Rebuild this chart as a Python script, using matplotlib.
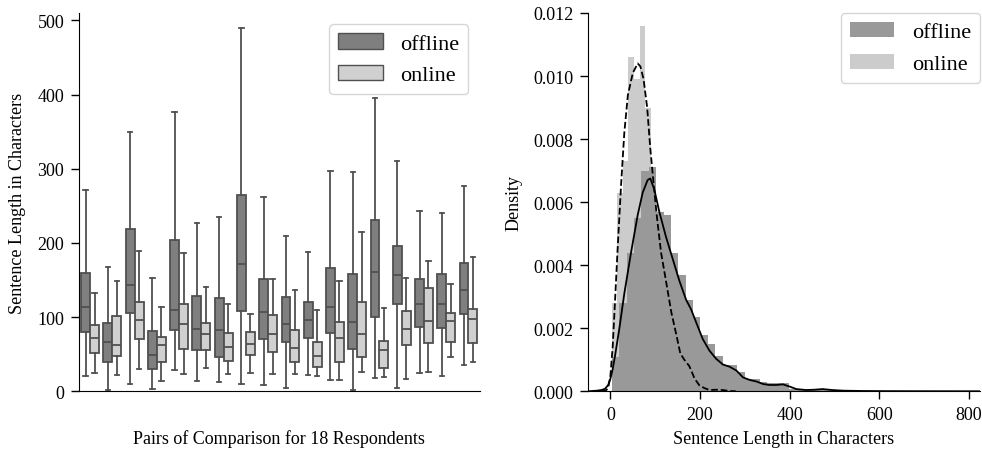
import numpy as np
import matplotlib
matplotlib.use("Agg")
import matplotlib.pyplot as plt
from matplotlib.patches import Patch

plt.rcParams['font.family'] = ['Liberation Serif', 'DejaVu Serif']
plt.rcParams['font.size'] = 13

# --- box plot data: one value per respondent (18 pairs) ---
offline_hi = [272, 168, 349, 153, 377, 227, 235, 490, 262, 209, 188, 297, 296, 395, 311, 243, 240, 277]
offline_q3 = [159, 92, 219, 81, 204, 128, 126, 264, 151, 127, 121, 166, 158, 231, 196, 151, 158, 173]
offline_med = [114, 67, 143, 49, 110, 84, 82, 172, 107, 91, 96, 113, 93, 161, 157, 118, 118, 136]
offline_q1 = [80, 40, 105, 30, 82, 55, 46, 108, 71, 66, 72, 79, 57, 100, 118, 86, 85, 104]
offline_lo = [21, 2, 10, 3, 29, 14, 13, 10, 8, 4, 22, 15, 2, 18, 5, 25, 20, 36]

online_hi = [133, 149, 189, 114, 187, 140, 118, 104, 151, 137, 110, 149, 215, 112, 153, 176, 144, 181]
online_q3 = [90, 101, 121, 73, 117, 92, 79, 80, 103, 83, 66, 94, 120, 68, 108, 139, 105, 111]
online_med = [72, 62, 96, 63, 91, 77, 60, 64, 77, 58, 48, 72, 77, 56, 84, 95, 95, 97]
online_q1 = [52, 48, 70, 40, 57, 55, 41, 49, 53, 39, 33, 40, 46, 31, 63, 65, 67, 65]
online_lo = [25, 22, 30, 14, 23, 31, 23, 25, 23, 23, 21, 15, 26, 19, 17, 26, 46, 39]

# --- histogram data (density per bin) ---
offline_bin_start, offline_bin_width = 3.0, 16.5
offline_hist = [0.0011, 0.0028, 0.0044, 0.0055, 0.0070, 0.0071, 0.0057, 0.0056, 0.0044, 0.0037,
                0.0029, 0.00235, 0.0018, 0.0015, 0.00113, 0.00084, 0.00084, 0.0006, 0.0004, 0.0004,
                0.0003, 0.00025, 0.00025, 0.00027, 0.00008, 0.00005, 0.00003, 0.00005, 0.00008, 0.00004,
                0.00002, 0.00002, 0.00001, 0.00001, 0.00002, 0.0, 0.00001, 0.0, 0.0, 0.00001,
                0.0, 0.0, 0.00001, 0.0, 0.0, 0.0, 0.00001, 0.0, 0.0, 0.00001]
online_bin_start, online_bin_width = 2.5, 12.5
online_hist = [0.0028, 0.0063, 0.0073, 0.0106, 0.0099, 0.0116, 0.0090, 0.0063, 0.0049, 0.0038,
               0.0030, 0.0028, 0.0022, 0.0012, 0.0008, 0.0004, 0.0002, 0.0001, 0.0001, 0.00005]

# --- kde curves ---
offline_kde_x = [-50, -40, -30, -20, -12, -5, 0, 5, 10, 20, 31, 46, 61, 72, 83, 89, 98, 109, 124, 139,
                 154, 169, 180, 191, 206, 221, 236, 251, 266, 281, 296, 311, 326, 341, 355, 370, 385,
                 400, 415, 437, 455, 474, 495, 520, 560, 620, 700, 825]
offline_kde_y = [0, 0.00001, 0.00002, 0.00004, 0.00008, 0.0002, 0.0004, 0.0007, 0.0011, 0.0020, 0.0031,
                 0.0044, 0.0056, 0.0063, 0.0067, 0.00675, 0.0064, 0.0057, 0.0049, 0.0042, 0.0035,
                 0.0029, 0.0026, 0.0022, 0.00166, 0.00129, 0.00103, 0.00085, 0.00078, 0.00066,
                 0.00044, 0.00036, 0.00031, 0.00023, 0.0002, 0.0002, 0.00022, 0.00015, 0.00007,
                 0.00004, 0.00005, 0.00007, 0.00004, 0.00002, 0.00001, 0.000005, 0.000003, 0.000001]
online_kde_x = [-20, -10, -5, 0, 5, 9, 16, 24, 31, 39, 50, 61, 67, 74, 82, 89, 97, 104, 113, 124, 136,
                147, 156, 165, 176, 188, 199, 210, 221, 236, 251, 265, 280]
online_kde_y = [0, 0.00003, 0.0001, 0.0005, 0.0014, 0.0025, 0.0045, 0.0066, 0.0082, 0.0094, 0.0101,
                0.0104, 0.0103, 0.0099, 0.0090, 0.0077, 0.0065, 0.0055, 0.0044, 0.0035, 0.0025,
                0.0018, 0.0012, 0.0010, 0.0008, 0.0004, 0.00018, 0.0001, 0.00004, 0.00005, 0.00004,
                0.00001, 0]

OFF_BOX = '#7f7f7f'
ON_BOX = '#d0d0d0'
LINE = '#505050'
OFF_HIST = '#999999'
ON_HIST = '#cccccc'

fig = plt.figure(figsize=(9.82, 4.52), dpi=100)
ax1 = fig.add_axes([0.0804, 0.1321, 0.408, 0.837])
ax2 = fig.add_axes([0.5988, 0.1321, 0.3992, 0.837])


def make_stats(lo, q1, med, q3, hi):
    return [dict(whislo=a, q1=b, med=c, q3=d, whishi=e)
            for a, b, c, d, e in zip(lo, q1, med, q3, hi)]


n = len(offline_med)
cats = np.arange(n)
common = dict(widths=0.4, showfliers=False, patch_artist=True,
              whiskerprops=dict(color=LINE, lw=1.3),
              capprops=dict(color=LINE, lw=1.3),
              medianprops=dict(color=LINE, lw=1.3))
ax1.bxp(make_stats(offline_lo, offline_q1, offline_med, offline_q3, offline_hi),
        positions=cats - 0.2, boxprops=dict(facecolor=OFF_BOX, edgecolor=LINE, lw=1.3), **common)
ax1.bxp(make_stats(online_lo, online_q1, online_med, online_q3, online_hi),
        positions=cats + 0.2, boxprops=dict(facecolor=ON_BOX, edgecolor=LINE, lw=1.3), **common)
ax1.set_xlim(-0.5, n - 0.5)
ax1.set_ylim(0, 510)
ax1.set_xticks([])
ax1.set_yticks([0, 100, 200, 300, 400, 500])
ax1.set_xlabel('Pairs of Comparison for 18 Respondents', labelpad=27)
ax1.set_ylabel('Sentence Length in Characters', labelpad=8)
ax1.legend(handles=[Patch(facecolor=OFF_BOX, edgecolor=LINE, label='offline'),
                    Patch(facecolor=ON_BOX, edgecolor=LINE, label='online')],
           loc='upper right', bbox_to_anchor=(1.0, 1.0), fontsize=16,
           edgecolor='0.8', handlelength=2.0)

# histograms
on_edges = online_bin_start + online_bin_width * np.arange(len(online_hist))
off_edges = offline_bin_start + offline_bin_width * np.arange(len(offline_hist))
ax2.bar(on_edges, online_hist, width=online_bin_width, align='edge', color=ON_HIST, lw=0)
ax2.bar(off_edges, offline_hist, width=offline_bin_width, align='edge', color=OFF_HIST, lw=0)
ax2.plot(offline_kde_x, offline_kde_y, color='black', lw=1.3)
ax2.plot(online_kde_x, online_kde_y, color='black', lw=1.3, ls='--')
ax2.set_xlim(-50, 825)
ax2.set_ylim(0, 0.012)
ax2.set_xticks([0, 200, 400, 600, 800])
ax2.set_yticks(np.arange(0, 0.0121, 0.002))
ax2.yaxis.set_major_formatter(matplotlib.ticker.FormatStrFormatter('%.3f'))
ax2.set_xlabel('Sentence Length in Characters', labelpad=5)
ax2.set_ylabel('Density', labelpad=8)
ax2.legend(handles=[Patch(facecolor=OFF_HIST, label='offline'),
                    Patch(facecolor=ON_HIST, label='online')],
           loc='upper right', bbox_to_anchor=(1.0, 1.0), borderaxespad=0,
           fontsize=16, edgecolor='0.8', handlelength=2.0)

for ax in (ax1, ax2):
    ax.spines['top'].set_visible(False)
    ax.spines['right'].set_visible(False)
    ax.tick_params(length=5.5, width=1, labelsize=13, pad=5)

fig.savefig('out.png', dpi=100)
